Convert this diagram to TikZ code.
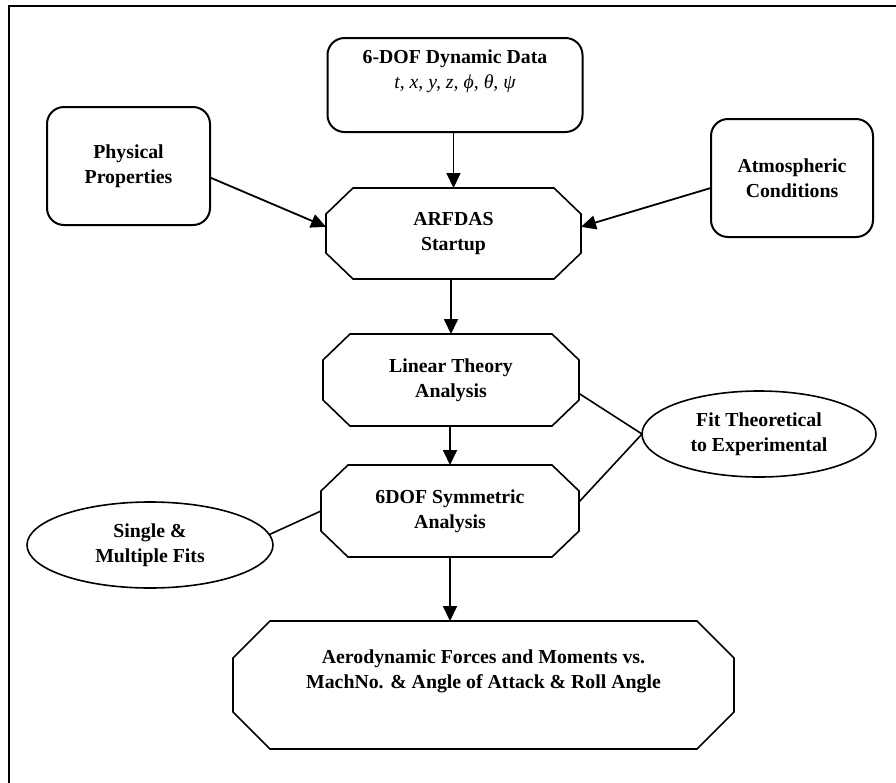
\documentclass[tikz,border=0pt]{standalone}
\usepackage{fontspec}
\setmainfont{Liberation Serif}
\usepackage{tikz}
\usetikzlibrary{arrows.meta,positioning,shapes.geometric}
\tikzset{
  boxfont/.style={font=\fontsize{9.9}{12.5}\selectfont\bfseries},
  rbox/.style={draw=black,line width=1pt,rounded corners=8.5pt,align=center,
    boxfont,inner sep=0pt,outer sep=0pt},
  octbox/.style={rectangle,align=center,boxfont,inner sep=0pt,outer sep=0pt},
  octline/.style={line width=0.8pt,line join=miter},
  ovalbox/.style={ellipse,draw=black,line width=0.8pt,align=center,inner sep=0pt,
    outer sep=0pt,boxfont},
  flowarr/.style={-{Triangle[length=7.5pt,width=7pt]},line width=0.9pt},
  fitline/.style={line width=0.8pt},
}
% octagon outline round a named node: node, x cut, y cut
\newcommand{\octframe}[3]{%
  \draw[octline] ([xshift=#2]#1.north west) -- ([xshift=-#2]#1.north east)
    -- ([yshift=-#3]#1.north east) -- ([yshift=#3]#1.south east)
    -- ([xshift=-#2]#1.south east) -- ([xshift=#2]#1.south west)
    -- ([yshift=#3]#1.south west) -- ([yshift=-#3]#1.north west) -- cycle;}
\begin{document}
\begin{tikzpicture}[x=0.5pt,y=-0.5pt]
  \useasboundingbox (0,0) rectangle (896,783);
  \draw[line width=1.3pt] (9,783) -- (9,6) -- (896,6);
  % inputs
  \node[rbox,minimum width=127.5pt,minimum height=47pt] (dof) at (455,85)
    {6-DOF Dynamic Data\\ \mdseries\itshape t, x, y, z, ϕ, θ, ψ\\ \strut};
  \node[rbox,minimum width=81.5pt,minimum height=59pt] (phys) at (128.5,166) {Physical\\ Properties};
  \node[rbox,minimum width=81pt,minimum height=59pt] (atm) at (792,178) {Atmospheric\\ Conditions};
  % analysis chain
  \node[octbox,minimum width=127.5pt,minimum height=45.5pt] (arf) at (453.5,233.5) {ARFDAS\\ Startup};
  \node[octbox,minimum width=128pt,minimum height=46pt] (lin) at (451,380) {Linear Theory\\ Analysis};
  \node[octbox,minimum width=129pt,minimum height=46pt] (sym) at (450,511) {6DOF Symmetric\\ Analysis};
  \node[octbox,minimum width=250.5pt,minimum height=64pt] (aero) at (483.5,685)
    {Aerodynamic Forces and Moments vs.\\ MachNo. \& Angle of Attack \& Roll Angle\\ \strut};
  \octframe{arf}{13.5pt}{13pt}
  \octframe{lin}{13.5pt}{13pt}
  \octframe{sym}{13.5pt}{13pt}
  \octframe{aero}{18.5pt}{18.5pt}
  % fitting
  \node[ovalbox,minimum width=117pt,minimum height=43pt] (fit) at (759,434) {Fit Theoretical\\ to Experimental};
  \node[ovalbox,minimum width=123pt,minimum height=43pt] (sfit) at (150,545) {Single \&\\ Multiple Fits};
  \draw[flowarr] (dof.south -| arf.north) -- (arf.north);
  \draw[flowarr] (phys.-8) -- (arf.177);
  \draw[flowarr] (atm.187) -- (arf.3);
  \draw[flowarr] (arf.south -| lin.north) -- (lin.north);
  \draw[flowarr] (lin.south -| sym.north) -- (sym.north);
  \draw[flowarr] (sym.south) -- (sym.south |- aero.north);
  \draw[fitline] (lin.-6) -- (fit.west);
  \draw[fitline] (sym.4) -- (fit.west);
  \draw[fitline] (sfit.5) -- (sym.west);
\end{tikzpicture}
\end{document}
